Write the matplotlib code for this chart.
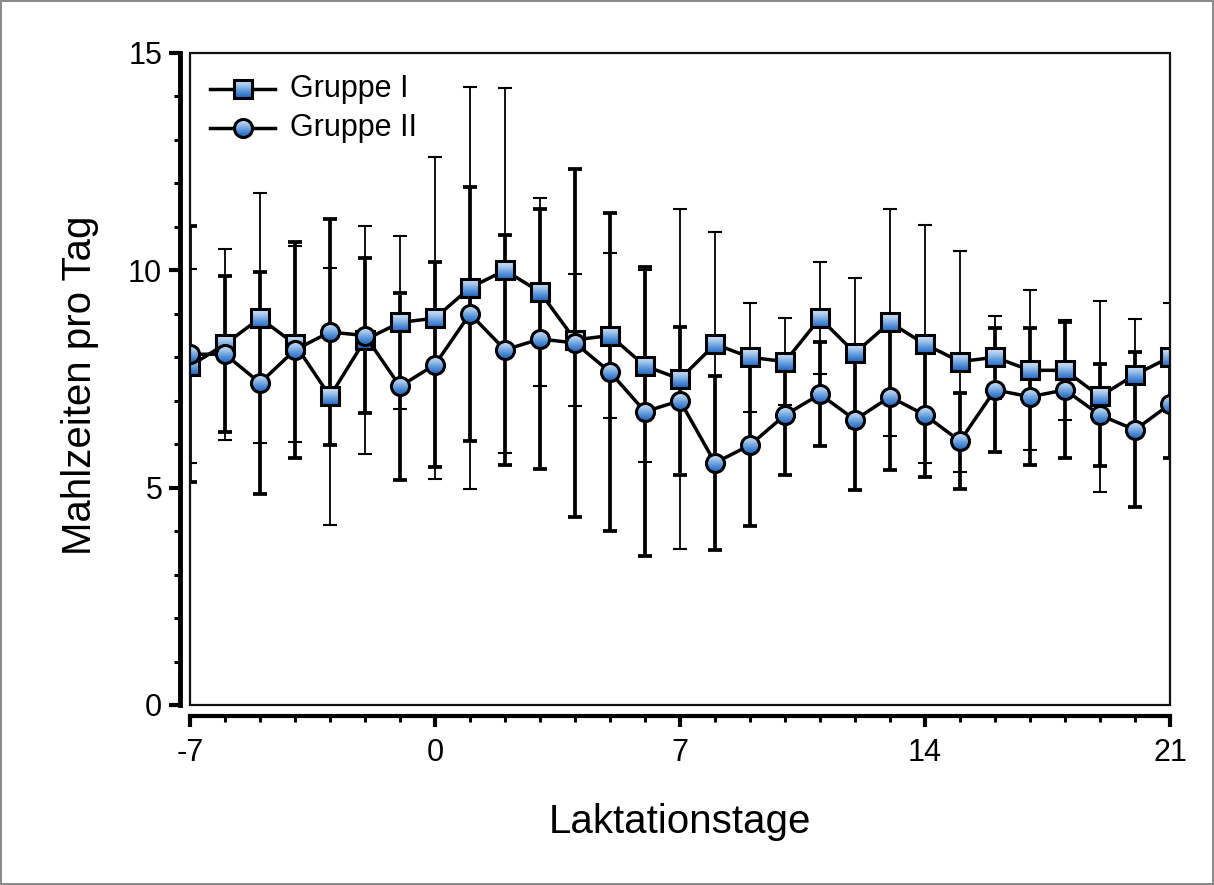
import matplotlib
matplotlib.use("Agg")
import numpy as np
import matplotlib.pyplot as plt
from matplotlib.patches import Rectangle, Ellipse
from matplotlib.ticker import MultipleLocator, FixedLocator
from matplotlib.colors import LinearSegmentedColormap

plt.rcParams['font.family'] = ['Liberation Sans', 'DejaVu Sans']

days = list(range(-7, 22))
g1_mean = [7.8, 8.3, 8.9, 8.3, 7.1, 8.4, 8.8, 8.9, 9.6, 10.0, 9.5, 8.4, 8.5, 7.8, 7.5,
           8.3, 8.0, 7.9, 8.9, 8.1, 8.8, 8.3, 7.9, 8.0, 7.7, 7.7, 7.1, 7.6, 8.0]
g1_sd = [2.23, 2.2, 2.88, 2.26, 2.96, 2.62, 2.0, 3.7, 4.62, 4.2, 2.17, 1.52, 1.9, 2.2, 3.92,
         2.58, 1.25, 1.0, 1.29, 1.72, 2.6, 2.74, 2.55, 0.95, 1.84, 1.15, 2.2, 1.29, 1.25]
g2_mean = [8.07, 8.07, 7.41, 8.17, 8.58, 8.5, 7.33, 7.83, 9.0, 8.17, 8.42, 8.33, 7.66, 6.75, 7.0,
           5.57, 5.98, 6.67, 7.15, 6.56, 7.09, 6.67, 6.07, 7.25, 7.09, 7.25, 6.67, 6.33, 6.92]
g2_sd = [2.95, 1.8, 2.55, 2.48, 2.6, 1.78, 2.15, 2.36, 2.92, 2.64, 2.99, 4.0, 3.65, 3.33, 1.7,
         2.0, 1.86, 1.38, 1.2, 1.61, 1.68, 1.42, 1.1, 1.42, 1.58, 1.56, 1.17, 1.78, 1.24]
labels = ["Gruppe I", "Gruppe II"]
xticks = [-7, 0, 7, 14, 21]
yticks = [0, 5, 10, 15]
XMIN, XMAX, YMIN, YMAX = -7, 21, 0, 15

fig = plt.figure(figsize=(12.14, 8.85), dpi=100)
fig.patch.set_edgecolor('#8a8a8a')
fig.patch.set_linewidth(1.5)
ax = fig.add_axes([190/1214, 1-705/885, 980/1214, 652/885])
ax.set_xlim(XMIN, XMAX)
ax.set_ylim(YMIN, YMAX)

cmap = LinearSegmentedColormap.from_list('g', ['#dde9f8', '#9ec3ec', '#5392da', '#2062b9'])
grad = np.linspace(0, 1, 64).reshape(-1, 1)
PX = 100 / 72.0
MS_SQ, MS_CI, MEW, LW = 13.5, 13.0, 2.2, 2.5


def grad_markers(xs, ys, shape, ms, z, clip_axes=True):
    pxx = ax.bbox.width / (XMAX - XMIN)
    pxy = ax.bbox.height / (YMAX - YMIN)
    half = ms * PX / 2
    dx, dy = half / pxx, half / pxy
    for x, y in zip(xs, ys):
        if shape == 's':
            clip = Rectangle((x - dx, y - dy), 2 * dx, 2 * dy, transform=ax.transData)
        else:
            clip = Ellipse((x, y), 2 * dx, 2 * dy, transform=ax.transData)
        im = ax.imshow(grad, cmap=cmap, extent=[x - dx, x + dx, y - dy, y + dy],
                       origin='upper', aspect='auto', interpolation='bilinear', zorder=z)
        im.set_clip_path(clip)
        if clip_axes:
            im.set_clip_box(ax.bbox)


# error bars
ax.errorbar(days, g1_mean, yerr=g1_sd, fmt='none', ecolor='black', elinewidth=1.3,
            capsize=5, capthick=1.5, zorder=2)
ax.errorbar(days, g2_mean, yerr=g2_sd, fmt='none', ecolor='black', elinewidth=2.7,
            capsize=5, capthick=2.7, zorder=2)

# group I
ax.plot(days, g1_mean, '-', color='black', lw=LW, zorder=3)
grad_markers(days, g1_mean, 's', MS_SQ, 3.1)
ax.plot(days, g1_mean, ls='none', marker='s', ms=MS_SQ, mfc='none', mec='black',
        mew=MEW, zorder=3.2)
# group II
ax.plot(days, g2_mean, '-', color='black', lw=LW, zorder=4)
grad_markers(days, g2_mean, 'o', MS_CI, 4.1)
ax.plot(days, g2_mean, ls='none', marker='o', ms=MS_CI, mfc='none', mec='black',
        mew=MEW, zorder=4.2)

ax.set_xlim(XMIN, XMAX)
ax.set_ylim(YMIN, YMAX)

# manual legend (axes-fraction layout)
def ax2data(fx, fy):
    return XMIN + fx * (XMAX - XMIN), YMIN + fy * (YMAX - YMIN)

leg_rows = [(0.9448, 's', MS_SQ), (0.885, 'o', MS_CI)]
for (fy, mk, ms), lab in zip(leg_rows, labels):
    xa, ya = ax2data(0.0204, fy)
    xb, _ = ax2data(0.0867, fy)
    xm, _ = ax2data(0.0541, fy)
    ax.plot([xa, xb], [ya, ya], '-', color='black', lw=LW, zorder=7, clip_on=False)
    grad_markers([xm], [ya], mk, ms, 7.1)
    ax.plot([xm], [ya], ls='none', marker=mk, ms=ms, mfc='none', mec='black',
            mew=MEW, zorder=7.2)
    ax.text(0.102, fy, lab, transform=ax.transAxes, ha='left', va='center',
            fontsize=22, zorder=7)

# frame box
ax.add_patch(Rectangle((0, 0), 1, 1, transform=ax.transAxes, fill=False,
                       lw=1.6, edgecolor='#111111', zorder=6, clip_on=False))
for s in ['top', 'right']:
    ax.spines[s].set_visible(False)
ax.spines['left'].set_position(('outward', 7))
ax.spines['bottom'].set_position(('outward', 8))
ax.spines['left'].set_linewidth(3.5)
ax.spines['bottom'].set_linewidth(3.0)

ax.xaxis.set_major_locator(FixedLocator(xticks))
ax.xaxis.set_minor_locator(MultipleLocator(1))
ax.yaxis.set_major_locator(FixedLocator(yticks))
ax.yaxis.set_minor_locator(MultipleLocator(1))
ax.tick_params(axis='both', which='major', direction='out', length=8, width=3,
               labelsize=22, pad=5)
ax.tick_params(axis='x', which='major', pad=8)
ax.tick_params(axis='both', which='minor', direction='out', length=4.5, width=2.2)
ax.set_xticklabels([str(t) for t in xticks])
ax.set_yticklabels([str(t) for t in yticks])

fig.text(680/1214, 1-822/885, "Laktationstage", ha='center', va='center', fontsize=29)
fig.text(80/1214, 1-385/885, "Mahlzeiten pro Tag", ha='center', va='center',
         rotation=90, fontsize=29)

fig.savefig("out.png", dpi=100)
